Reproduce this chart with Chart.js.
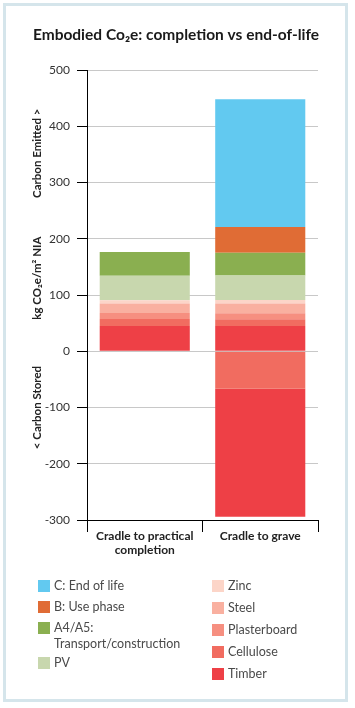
<!DOCTYPE html>
<html><head><meta charset="utf-8">
<script src="https://cdn.jsdelivr.net/npm/chart.js@4"></script>
<style>
html,body{margin:0;padding:0;background:#fff;}
#frame{position:absolute;left:3px;top:3px;width:339px;height:693px;border:3px solid #d5e5eb;}
#wrap{position:absolute;left:0;top:0;width:355px;height:708px;}
</style></head><body>
<div id="frame"></div>
<div id="wrap"><canvas id="c" width="355" height="708"></canvas></div>
<script>
// ---- data ----
const categories = [['Cradle to practical', 'completion'], 'Cradle to grave'];
const timber = [45, 45];
const cellulose = [12.5, 12];
const plasterboard = [10.7, 10.5];
const steel = [16.8, 17.5];
const zinc = [5.8, 6];
const pv = [43.5, 43.5];
const a4a5 = [42, 40.5];
const usePhaseB = [0, 46];
const endOfLifeC = [0, 227];
const celluloseStored = [0, -66.6];
const timberStored = [0, -227.6];
const yMin = -300, yMax = 500, yStep = 100;

const titleText = 'Embodied Co\u2082e: completion vs end-of-life';
const yTitleEmitted = 'Carbon Emitted >';
const yTitleUnit = 'kg CO\u2082e/m\u00B2 NIA';
const yTitleStored = '< Carbon Stored';

const colors = {
  C: '#62c9f0', B: '#e06c35', A: '#8aaf50', PV: '#c8d7ae',
  zinc: '#fcd5c8', steel: '#f9b0a0', plaster: '#f68f80', cellulose: '#f16c60', timber: '#ee4046'
};

const legendLeft = [
  { lines: ['C: End of life'], color: colors.C },
  { lines: ['B: Use phase'], color: colors.B },
  { lines: ['A4/A5:', 'Transport/construction'], color: colors.A },
  { lines: ['PV'], color: colors.PV }
];
const legendRight = [
  { lines: ['Zinc'], color: colors.zinc },
  { lines: ['Steel'], color: colors.steel },
  { lines: ['Plasterboard'], color: colors.plaster },
  { lines: ['Cellulose'], color: colors.cellulose },
  { lines: ['Timber'], color: colors.timber }
];

function ds(label, data, color) {
  return { label, data, backgroundColor: color, borderWidth: 0, stack: 's',
           barPercentage: 0.78, categoryPercentage: 1 };
}

const datasets = [
  ds('Timber', timber, colors.timber),
  ds('Cellulose', cellulose, colors.cellulose),
  ds('Plasterboard', plasterboard, colors.plaster),
  ds('Steel', steel, colors.steel),
  ds('Zinc', zinc, colors.zinc),
  ds('PV', pv, colors.PV),
  ds('A4/A5: Transport/construction', a4a5, colors.A),
  ds('B: Use phase', usePhaseB, colors.B),
  ds('C: End of life', endOfLifeC, colors.C),
  ds('Cellulose (stored)', celluloseStored, colors.cellulose),
  ds('Timber (stored)', timberStored, colors.timber)
];

const FONT = 'Lato, "Open Sans", sans-serif';

const decor = {
  id: 'decor',
  afterDraw(chart) {
    const ctx = chart.ctx;
    const y = chart.scales.y;
    ctx.save();
    // title
    ctx.fillStyle = '#1a1a1a';
    ctx.font = 'bold 15.5px ' + FONT;
    ctx.textAlign = 'center';
    ctx.textBaseline = 'middle';
    ctx.fillText(titleText, 176, 35);
    // y axis titles
    ctx.font = 'bold 11.5px ' + FONT;
    ctx.fillStyle = '#222';
    const drawV = (t, v) => {
      ctx.save();
      ctx.translate(37, y.getPixelForValue(v));
      ctx.rotate(-Math.PI / 2);
      ctx.fillText(t, 0, 0);
      ctx.restore();
    };
    drawV(yTitleEmitted, 352);
    drawV(yTitleUnit, 130);
    drawV(yTitleStored, -100);
    // legend
    ctx.font = '12.5px ' + FONT;
    ctx.textAlign = 'left';
    const drawCol = (items, bx, tx, startY, step) => {
      let yy = startY;
      items.forEach(it => {
        ctx.fillStyle = it.color;
        ctx.fillRect(bx, yy - 6, 12, 12);
        ctx.fillStyle = '#4a4a4a';
        it.lines.forEach((ln, i) => ctx.fillText(ln, tx, yy + i * 16));
        yy += step + (it.lines.length - 1) * 14;
      });
    };
    drawCol(legendLeft, 38, 54, 586, 21);
    drawCol(legendRight, 212, 228, 586, 22);
    ctx.restore();
  }
};

new Chart(document.getElementById('c'), {
  type: 'bar',
  data: { labels: categories, datasets },
  options: {
    responsive: false,
    animation: false,
    devicePixelRatio: 1,
    layout: { padding: { top: 70, right: 37, bottom: 0, left: 0 } },
    plugins: { legend: { display: false }, title: { display: false }, tooltip: { enabled: false } },
    scales: {
      x: {
        stacked: true,
        afterFit(s) { s.height = 188; },
        grid: { drawOnChartArea: false, drawTicks: true, tickLength: 12, tickColor: '#000', offset: true },
        border: { color: '#000', width: 1 },
        ticks: { color: '#222', font: { family: FONT, size: 12, weight: 'bold' }, padding: -3, maxRotation: 0, autoSkip: false }
      },
      y: {
        stacked: true,
        min: yMin, max: yMax,
        afterFit(s) { s.width = 87; },
        grid: { color: '#c8c8c8', tickColor: '#000', tickLength: 10 },
        border: { color: '#000', width: 1 },
        ticks: { stepSize: yStep, color: '#333', font: { family: FONT, size: 12 }, padding: 7 }
      }
    }
  },
  plugins: [decor]
});
</script>
</body></html>
